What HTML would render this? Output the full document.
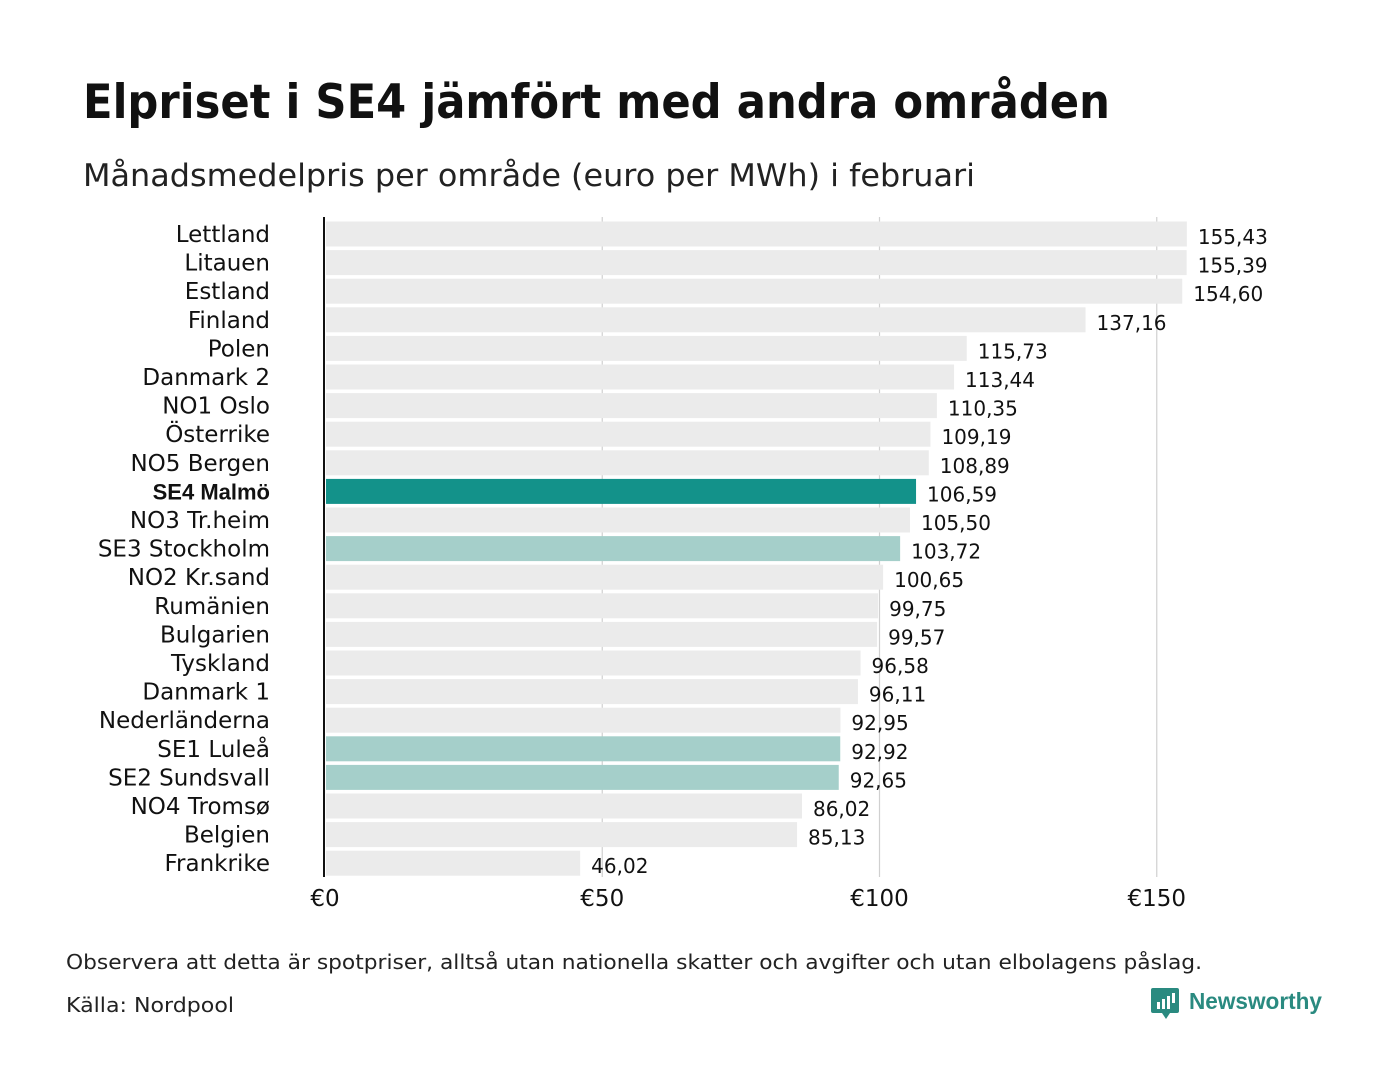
<!DOCTYPE html>
<html><head><meta charset="utf-8"><style>
body{margin:0;background:#fff;font-family:"DejaVu Sans","Liberation Sans",sans-serif;}
</style></head><body>
<svg width="1400" height="1080" xmlns="http://www.w3.org/2000/svg">
<text x="83" y="118" font-family="'DejaVu Sans',sans-serif" font-weight="bold" font-size="47" fill="#111" textLength="1027" lengthAdjust="spacingAndGlyphs">Elpriset i SE4 jämfört med andra områden</text>
<text x="83" y="186" font-size="31" fill="#222" textLength="892" lengthAdjust="spacingAndGlyphs">Månadsmedelpris per område (euro per MWh) i februari</text>
<g id="grid"></g>
<g id="bars"></g>
<line x1="324" y1="217" x2="324" y2="877" stroke="#111" stroke-width="2"/>
<g id="ticks"></g>
<text x="66" y="969" font-size="20" fill="#222" textLength="1136" lengthAdjust="spacingAndGlyphs">Observera att detta är spotpriser, alltså utan nationella skatter och avgifter och utan elbolagens påslag.</text>
<text x="66" y="1012" font-size="20" fill="#222" textLength="168" lengthAdjust="spacingAndGlyphs">Källa: Nordpool</text>
<g>
<path d="M1153 988 h24 a2 2 0 0 1 2 2 v21 a2 2 0 0 1 -2 2 h-7 l-4 6 l-4 -6 h-9 a2 2 0 0 1 -2 -2 v-21 a2 2 0 0 1 2 -2z" fill="#2a8a80"/>
<rect x="1157" y="1002" width="3" height="7" fill="#fff"/><rect x="1162" y="999" width="3" height="10" fill="#fff"/><rect x="1167" y="996" width="3" height="13" fill="#fff"/><rect x="1172" y="993" width="3" height="10" fill="#fff"/>
<text x="1189" y="1009" font-family="'Liberation Sans',sans-serif" font-weight="bold" font-size="23" fill="#2a8a80" textLength="133" lengthAdjust="spacingAndGlyphs">Newsworthy</text>
</g>
</svg>
<script>
const categories=["Lettland","Litauen","Estland","Finland","Polen","Danmark  2","NO1 Oslo","Österrike","NO5 Bergen","SE4 Malmö","NO3 Tr.heim","SE3  Stockholm","NO2 Kr.sand","Rumänien","Bulgarien","Tyskland","Danmark  1","Nederländerna","SE1  Luleå","SE2  Sundsvall","NO4 Tromsø","Belgien","Frankrike"];
const values=[155.43,155.39,154.60,137.16,115.73,113.44,110.35,109.19,108.89,106.59,105.50,103.72,100.65,99.75,99.57,96.58,96.11,92.95,92.92,92.65,86.02,85.13,46.02];
const highlight=["none","none","none","none","none","none","none","none","none","main","none","se","none","none","none","none","none","none","se","se","none","none","none"];
const ticks=[0,50,100,150];
const ns="http://www.w3.org/2000/svg";
const x=v=>325+v*5.545;
const yc=i=>234+i*28.6;
function mk(t,a,p){const e=document.createElementNS(ns,t);for(const k in a)e.setAttribute(k,a[k]);p.appendChild(e);return e;}
const G=document.getElementById('grid'),B=document.getElementById('bars'),T=document.getElementById('ticks');
ticks.forEach(t=>{if(t>0){const l=mk('line',{x1:x(t),x2:x(t),y1:217,y2:877,stroke:'#d0d0d0','stroke-width':1.2},G);

}
const tx=mk('text',{x:x(t),y:906,'text-anchor':'middle','font-size':23,fill:'#111'},T);tx.textContent='€'+t;

});
categories.forEach((c,i)=>{const col=highlight[i]=='main'?'#13928a':highlight[i]=='se'?'#a5cfca':'#ebebeb';
const r=mk('rect',{x:326,y:yc(i)-12.5,width:x(values[i])-326,height:25,fill:col},B);


const l=mk('text',{x:270,y:yc(i)+8,'text-anchor':'end','font-size':23,fill:'#111','xml:space':'preserve'},B);
if(highlight[i]=='main'){l.setAttribute('font-weight','bold');l.setAttribute('font-family','Liberation Sans,sans-serif');l.setAttribute('font-size','22');}
l.textContent=c;


const v=mk('text',{x:x(values[i])+11,y:yc(i)+10,'font-size':20,fill:'#111'},B);v.textContent=values[i].toFixed(2).replace('.',',');

});
</script>
</body></html>
